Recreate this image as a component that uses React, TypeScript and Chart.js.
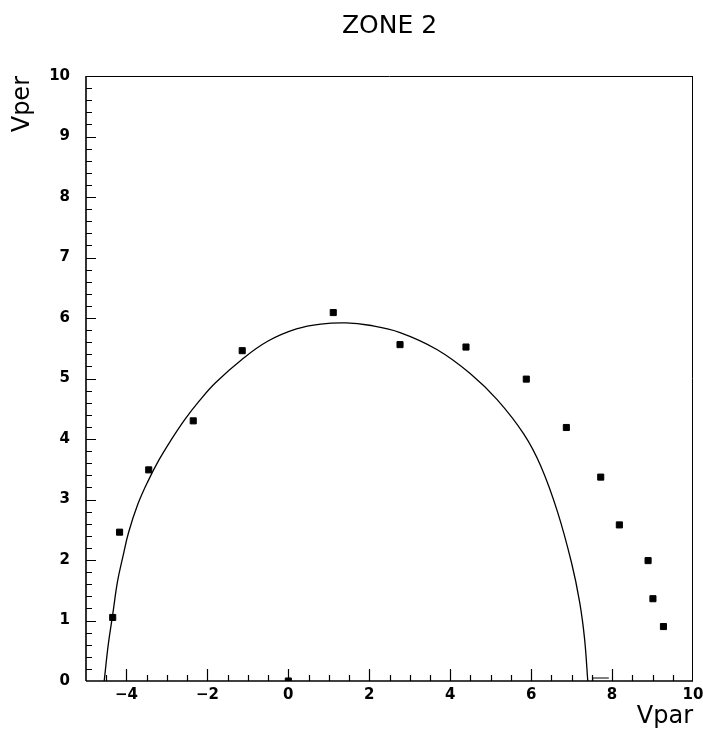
import React, { useEffect, useRef } from "react";
import { Chart, registerables } from "chart.js";

Chart.register(...registerables);

const chartTitle = "ZONE 2";
const xAxisTitle = "Vpar";
const yAxisTitle = "Vper";

const xMin = -5;
const xMax = 10;
const yMin = 0;
const yMax = 10;
const xTickValues = [-4, -2, 0, 2, 4, 6, 8, 10];
const yTickValues = [0, 1, 2, 3, 4, 5, 6, 7, 8, 9, 10];
const xMinorStep = 0.5;
const yMinorStep = 0.2;

// measured points (Vpar, Vper)
const pointsX = [-4.34, -4.17, -3.45, -2.35, -1.14, 0, 1.11, 2.76, 4.39, 5.88, 6.87, 7.72, 8.18, 8.89, 9.01, 9.27];
const pointsY = [1.05, 2.46, 3.49, 4.3, 5.46, 0, 6.09, 5.56, 5.52, 4.99, 4.19, 3.37, 2.58, 1.99, 1.36, 0.9];

// fitted curve
const curveX = [-4.55, -4.45, -4.34, -4.22, -4.09, -3.95, -3.72, -3.47, -3.2, -2.91, -2.56, -2.2, -1.8, -1.14, -0.5, 0.2, 0.8, 1.43, 2.0, 2.76, 3.67, 4.5, 5.16, 5.82, 6.24, 6.65, 7.0, 7.2, 7.32, 7.4];
const curveY = [0, 0.6, 1.1, 1.65, 2.05, 2.45, 2.92, 3.3, 3.65, 3.97, 4.32, 4.63, 4.93, 5.32, 5.62, 5.82, 5.9, 5.92, 5.88, 5.76, 5.48, 5.08, 4.65, 4.08, 3.55, 2.8, 1.95, 1.3, 0.7, 0];

// small stub near the axis after the curve end
const stubX = [7.52, 7.52, 7.92];
const stubY = [0, 0.05, 0.05];

const FONT = "'DejaVu Sans', 'Liberation Sans', sans-serif";

const frameTicks = {
  id: "frameTicks",
  afterDatasetsDraw(chart: any) {
    const { ctx, chartArea, scales } = chart;
    const { left, right, top, bottom } = chartArea;
    const x = scales.x;
    const y = scales.y;
    ctx.save();
    ctx.strokeStyle = "#000";
    ctx.lineWidth = 1;
    ctx.beginPath();
    ctx.moveTo(left, top + 0.5);
    ctx.lineTo(right, top + 0.5);
    ctx.moveTo(right - 0.5, top);
    ctx.lineTo(right - 0.5, bottom);
    ctx.stroke();
    ctx.lineWidth = 1.6;
    ctx.beginPath();
    ctx.moveTo(left, top);
    ctx.lineTo(left, bottom);
    ctx.stroke();
    ctx.lineWidth = 1.3;
    ctx.beginPath();
    ctx.moveTo(left, bottom);
    ctx.lineTo(right, bottom);
    ctx.stroke();
    ctx.lineWidth = 1.2;
    ctx.beginPath();
    const nx = Math.round((xMax - xMin) / xMinorStep);
    for (let i = 1; i < nx; i++) {
      const v = xMin + i * xMinorStep;
      const px = Math.round(x.getPixelForValue(v)) + 0.5;
      const len = xTickValues.includes(v) ? 12 : 6;
      ctx.moveTo(px, bottom);
      ctx.lineTo(px, bottom - len);
    }
    const ny = Math.round((yMax - yMin) / yMinorStep);
    for (let i = 1; i < ny; i++) {
      const v = yMin + i * yMinorStep;
      const py = Math.round(y.getPixelForValue(v)) + 0.5;
      const len = i % Math.round(1 / yMinorStep) === 0 ? 10 : 6;
      ctx.moveTo(left, py);
      ctx.lineTo(left + len, py);
    }
    ctx.stroke();
    ctx.restore();
  },
};

const fmt = (v: number) => (v < 0 ? "\u2212" + Math.abs(v) : String(v));

export default function App() {
  const ref = useRef<HTMLCanvasElement | null>(null);
  useEffect(() => {
    if (!ref.current) return;
    const chart = new Chart(ref.current, {
      type: "scatter",
      data: {
        datasets: [
          {
            label: "fit",
            data: curveX.map((v, i) => ({ x: v, y: curveY[i] })),
            showLine: true,
            borderColor: "#000",
            borderWidth: 1.3,
            pointRadius: 0,
            tension: 0.4,
          } as any,
          {
            label: "stub",
            data: stubX.map((v, i) => ({ x: v, y: stubY[i] })),
            showLine: true,
            borderColor: "#000",
            borderWidth: 1.2,
            pointRadius: 0,
          } as any,
          {
            label: "data",
            data: pointsX.map((v, i) => ({ x: v, y: pointsY[i] })),
            pointStyle: "rect",
            pointRadius: 4.3,
            backgroundColor: "#000",
            borderColor: "#000",
            borderWidth: 1,
          },
        ],
      },
      options: {
        responsive: false,
        animation: false,
        layout: { padding: { top: 0, right: 10, bottom: 0, left: 0 } },
        plugins: {
          legend: { display: false },
          tooltip: { enabled: false },
          title: {
            display: true,
            text: chartTitle,
            fullSize: false,
            color: "#000",
            font: { family: FONT, size: 25, weight: "normal" },
            padding: { top: 11, bottom: 35 },
          },
        },
        scales: {
          x: {
            type: "linear",
            min: xMin,
            max: xMax,
            afterBuildTicks: (s: any) => {
              s.ticks = xTickValues.map((v) => ({ value: v }));
            },
            afterFit: (s: any) => {
              s.height = 53;
              s.paddingLeft = 0;
              s.paddingRight = 0;
            },
            grid: { display: false, drawTicks: false },
            border: { display: false },
            ticks: {
              padding: 5,
              color: "#000",
              autoSkip: false,
              maxRotation: 0,
              font: { family: FONT, size: 15, weight: "bold" },
              callback: (v: any) => fmt(Number(v)),
            },
            title: {
              display: true,
              text: xAxisTitle,
              align: "end",
              color: "#000",
              font: { family: FONT, size: 24, weight: "normal" },
              padding: { top: 0, bottom: 3 },
            },
          },
          y: {
            type: "linear",
            min: yMin,
            max: yMax,
            afterBuildTicks: (s: any) => {
              s.ticks = yTickValues.map((v) => ({ value: v }));
            },
            afterFit: (s: any) => {
              s.width = 86;
              s.paddingTop = 0;
              s.paddingBottom = 0;
            },
            grid: { display: false, drawTicks: false },
            border: { display: false },
            ticks: {
              padding: 16,
              color: "#000",
              autoSkip: false,
              font: { family: FONT, size: 15, weight: "bold" },
              callback: (v: any) => fmt(Number(v)),
            },
            title: {
              display: true,
              text: yAxisTitle,
              align: "end",
              color: "#000",
              font: { family: FONT, size: 24, weight: "normal" },
              padding: { top: 8, bottom: 0 },
            },
          },
        },
      },
      plugins: [frameTicks],
    });
    return () => chart.destroy();
  }, []);
  return (
    <div style={{ position: "absolute", left: 0, top: 0, width: 703, height: 734, background: "#fff" }}>
      <canvas ref={ref} width={703} height={734} style={{ display: "block" }} />
    </div>
  );
}
